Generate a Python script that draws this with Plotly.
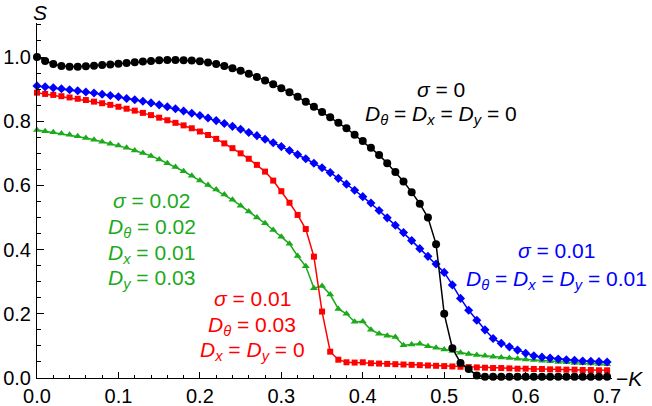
import plotly.graph_objects as go

kappa = [round(i * 0.01, 2) for i in range(71)]

s_black = [1.000, 0.988, 0.978, 0.972, 0.970, 0.970, 0.971, 0.973, 0.975, 0.977,
           0.979, 0.981, 0.984, 0.986, 0.988, 0.990, 0.991, 0.991, 0.990, 0.989,
           0.987, 0.983, 0.978, 0.972, 0.965, 0.957, 0.948, 0.938, 0.927, 0.915,
           0.903, 0.890, 0.876, 0.861, 0.845, 0.829, 0.812, 0.795, 0.778, 0.758,
           0.738, 0.717, 0.695, 0.669, 0.642, 0.612, 0.579, 0.543, 0.500, 0.417,
           0.200, 0.093, 0.047, 0.028, 0.008, 0.004, 0.004, 0.004, 0.004, 0.004,
           0.004, 0.004, 0.004, 0.004, 0.004, 0.004, 0.004, 0.004, 0.004, 0.004,
           0.004]

s_blue = [0.910, 0.907, 0.904, 0.901, 0.898, 0.895, 0.891, 0.888, 0.884, 0.880,
          0.876, 0.871, 0.867, 0.862, 0.857, 0.851, 0.845, 0.839, 0.832, 0.825,
          0.818, 0.810, 0.802, 0.793, 0.784, 0.775, 0.765, 0.755, 0.744, 0.733,
          0.721, 0.709, 0.696, 0.683, 0.669, 0.655, 0.640, 0.622, 0.604, 0.585,
          0.565, 0.545, 0.522, 0.499, 0.476, 0.453, 0.428, 0.403, 0.379, 0.355,
          0.329, 0.290, 0.248, 0.211, 0.180, 0.150, 0.123, 0.108, 0.097, 0.087,
          0.077, 0.069, 0.065, 0.062, 0.059, 0.057, 0.055, 0.053, 0.052, 0.051,
          0.050]

s_red = [0.889, 0.885, 0.882, 0.878, 0.874, 0.870, 0.866, 0.861, 0.856, 0.851,
         0.845, 0.839, 0.833, 0.826, 0.819, 0.811, 0.803, 0.795, 0.787, 0.778,
         0.768, 0.757, 0.745, 0.731, 0.716, 0.700, 0.683, 0.664, 0.643, 0.615,
         0.582, 0.546, 0.508, 0.464, 0.378, 0.207, 0.082, 0.057, 0.049, 0.048,
         0.049, 0.046, 0.045, 0.044, 0.043, 0.042, 0.041, 0.040, 0.039, 0.038,
         0.037, 0.036, 0.035, 0.034, 0.033, 0.032, 0.031, 0.031, 0.030, 0.029,
         0.029, 0.028, 0.028, 0.027, 0.027, 0.026, 0.026, 0.025, 0.025, 0.024,
         0.024]

s_green = [0.773, 0.769, 0.766, 0.762, 0.758, 0.753, 0.748, 0.742, 0.736, 0.730,
           0.724, 0.717, 0.709, 0.701, 0.692, 0.681, 0.669, 0.657, 0.644, 0.630,
           0.615, 0.601, 0.587, 0.572, 0.555, 0.537, 0.519, 0.500, 0.482, 0.461,
           0.440, 0.418, 0.380, 0.348, 0.280, 0.287, 0.260, 0.215, 0.200, 0.175,
           0.176, 0.150, 0.138, 0.132, 0.128, 0.102, 0.104, 0.107, 0.099, 0.094,
           0.089, 0.084, 0.079, 0.075, 0.072, 0.069, 0.066, 0.064, 0.062, 0.060,
           0.058, 0.056, 0.054, 0.052, 0.050, 0.049, 0.047, 0.046, 0.045, 0.044,
           0.043]

x_ticks = [0.0, 0.1, 0.2, 0.3, 0.4, 0.5, 0.6, 0.7]
x_tick_text = ["0.0", "0.1", "0.2", "0.3", "0.4", "0.5", "0.6", "0.7"]
y_ticks = [0.0, 0.2, 0.4, 0.6, 0.8, 1.0]
y_tick_text = ["0.0", "0.2", "0.4", "0.6", "0.8", "1.0"]

BLACK = "#000000"
BLUE = "#0000ff"
RED = "#ff0000"
GREEN = "#1aaa1a"
FONT = "Liberation Sans, Arial, Helvetica, sans-serif"

fig = go.Figure()

series = [
    (s_green, GREEN, "triangle-up", 7),
    (s_red, RED, "square", 6),
    (s_blue, BLUE, "diamond", 7),
    (s_black, BLACK, "circle", 8),
]
for ys, col, sym, sz in series:
    fig.add_trace(go.Scatter(
        x=kappa, y=ys, mode="lines+markers",
        line=dict(color=col, width=1.5),
        marker=dict(color=col, symbol=sym, size=sz, line=dict(width=0)),
        cliponaxis=False, showlegend=False,
    ))

axis_common = dict(
    showline=True, linecolor="black", linewidth=1,
    ticks="inside", tickcolor="black", tickwidth=1,
    showgrid=False, zeroline=False, automargin=False,
    tickfont=dict(family=FONT, size=20, color="black"),
)

fig.update_xaxes(
    range=[0, 0.706], tickvals=x_ticks, ticktext=x_tick_text, ticklen=6,
    ticklabelstandoff=0,
    minor=dict(ticks="inside", dtick=0.02, ticklen=3, tickcolor="black", showgrid=False),
    **axis_common,
)
fig.update_yaxes(
    range=[0, 1.106], tickvals=y_ticks, ticktext=y_tick_text, ticklen=7,
    ticklabelstandoff=1,
    minor=dict(ticks="inside", dtick=0.05, ticklen=4, tickcolor="black", showgrid=False),
    **axis_common,
)

def ann(text, x, y, color):
    fig.add_annotation(text=text, x=x, y=y, xref="x", yref="y",
                       showarrow=False, xanchor="center", yanchor="middle",
                       font=dict(family=FONT, size=21, color=color))

D = "<i>D</i>"
SIG = "<i>σ</i>"
Dt = D + "<sub><i>θ</i></sub>"
Dx = D + "<sub><i>x</i></sub>"
Dy = D + "<sub><i>y</i></sub>"

# black
ann(SIG + " = 0", 0.496, 0.900, BLACK)
ann(Dt + " = " + Dx + " = " + Dy + " = 0", 0.496, 0.818, BLACK)
# blue
ann(SIG + " = 0.01", 0.638, 0.396, BLUE)
ann(Dt + " = " + Dx + " = " + Dy + " = 0.01", 0.638, 0.305, BLUE)
# green
ann(SIG + " = 0.02", 0.141, 0.552, GREEN)
ann(Dt + " = 0.02", 0.141, 0.466, GREEN)
ann(Dx + " = 0.01", 0.141, 0.386, GREEN)
ann(Dy + " = 0.03", 0.141, 0.307, GREEN)
# red
ann(SIG + " = 0.01", 0.264, 0.249, RED)
ann(Dt + " = 0.03", 0.264, 0.163, RED)
ann(Dx + " = " + Dy + " = 0", 0.264, 0.085, RED)

# axis labels
fig.add_annotation(text="<i>S</i>", x=0, y=1.0, xref="x", yref="paper",
                   xshift=3, yshift=11, showarrow=False, xanchor="center", yanchor="middle",
                   font=dict(family=FONT, size=21, color="black"))
fig.add_annotation(text="−<i>K</i>", x=1.0, y=0, xref="paper", yref="y",
                   xshift=2, showarrow=False, xanchor="left", yanchor="middle",
                   font=dict(family=FONT, size=21, color="black"))

fig.update_layout(
    width=652, height=406,
    margin=dict(l=37, r=40, t=23, b=28),
    plot_bgcolor="white", paper_bgcolor="white",
)

fig.write_html("out.html",
               config={"displayModeBar": False},
               post_script="document.body.style.margin='0';document.body.style.overflow='hidden';")
